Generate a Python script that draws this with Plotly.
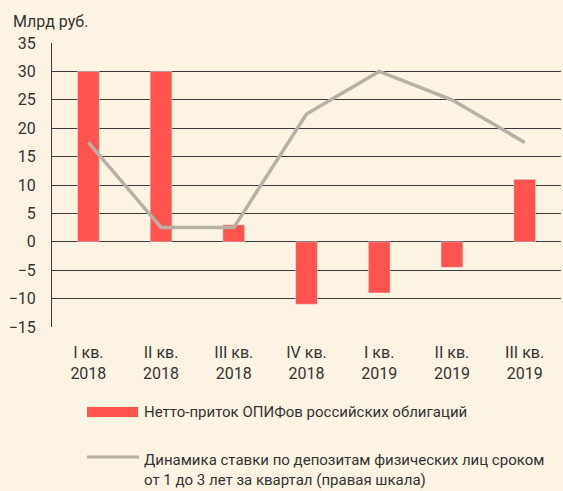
import plotly.graph_objects as go

categories = ["I кв.<br>2018", "II кв.<br>2018", "III кв.<br>2018", "IV кв.<br>2018",
              "I кв.<br>2019", "II кв.<br>2019", "III кв.<br>2019"]
net_inflow = [30, 30, 3, -11, -9, -4.5, 11]
deposit_rate = [17.5, 2.5, 2.5, 22.5, 30, 25, 17.5]
y_ticks = [-15, -10, -5, 0, 5, 10, 15, 20, 25, 30, 35]

BG = "#fdf3e3"
RED = "#ff5350"
GREY = "#b7b0a4"
TXT = "#333333"
FONT = "Roboto"

L, T, B = 52, 43, 164
PW = 563 - L - 2
PH = 491 - T - B

fig = go.Figure()
fig.add_trace(go.Bar(x=categories, y=net_inflow, marker_color=RED, showlegend=False,
                     width=0.3))
fig.add_trace(go.Scatter(x=categories, y=deposit_rate, mode="lines", yaxis="y2",
                         line=dict(color=GREY, width=3.5), showlegend=False))

fig.update_layout(
    width=563, height=491,
    paper_bgcolor=BG, plot_bgcolor=BG,
    margin=dict(l=L, r=2, t=T, b=B),
    font=dict(family=FONT, size=16, color=TXT),
    xaxis=dict(showgrid=False, ticks="", tickfont=dict(size=16), showline=False,
               zeroline=False, ticklabelstandoff=14),
    yaxis=dict(range=[-15, 35], tickvals=y_ticks, showgrid=True, gridcolor="#3a3a3a",
               gridwidth=1, zeroline=False, showline=True, linecolor="#3a3a3a", linewidth=1,
               ticks="", ticklabelstandoff=12, tickfont=dict(size=16)),
    yaxis2=dict(range=[-15, 35], overlaying="y", side="right", showgrid=False,
                showticklabels=False, zeroline=False, showline=False),
    bargap=0.7,
)

def px(x):
    return (x - L) / PW

def py(y):
    return (T + PH - y) / PH

fig.add_annotation(text="Млрд руб.", xref="paper", yref="paper", x=px(11), y=py(22),
                   xanchor="left", yanchor="middle", showarrow=False, font=dict(size=16))

# legend drawn manually
fig.add_shape(type="rect", xref="paper", yref="paper",
              x0=px(87), x1=px(138), y0=py(417), y1=py(407),
              fillcolor=RED, line=dict(width=0))
fig.add_annotation(text="Нетто-приток ОПИФов российских облигаций", xref="paper", yref="paper",
                   x=px(142), y=py(412), xanchor="left", yanchor="middle",
                   showarrow=False, font=dict(size=15))
fig.add_shape(type="line", xref="paper", yref="paper",
              x0=px(87), x1=px(139), y0=py(457), y1=py(457),
              line=dict(color=GREY, width=3))
fig.add_annotation(text="Динамика ставки по депозитам физических лиц сроком<br>от 1 до 3 лет за квартал (правая шкала)",
                   xref="paper", yref="paper",
                   x=px(142), y=py(470), xanchor="left", yanchor="middle",
                   align="left", showarrow=False, font=dict(size=15))

fig.write_html("out.html", config={"displayModeBar": False},
               post_script="document.body.style.margin='0';document.body.style.background='" + BG + "';")
